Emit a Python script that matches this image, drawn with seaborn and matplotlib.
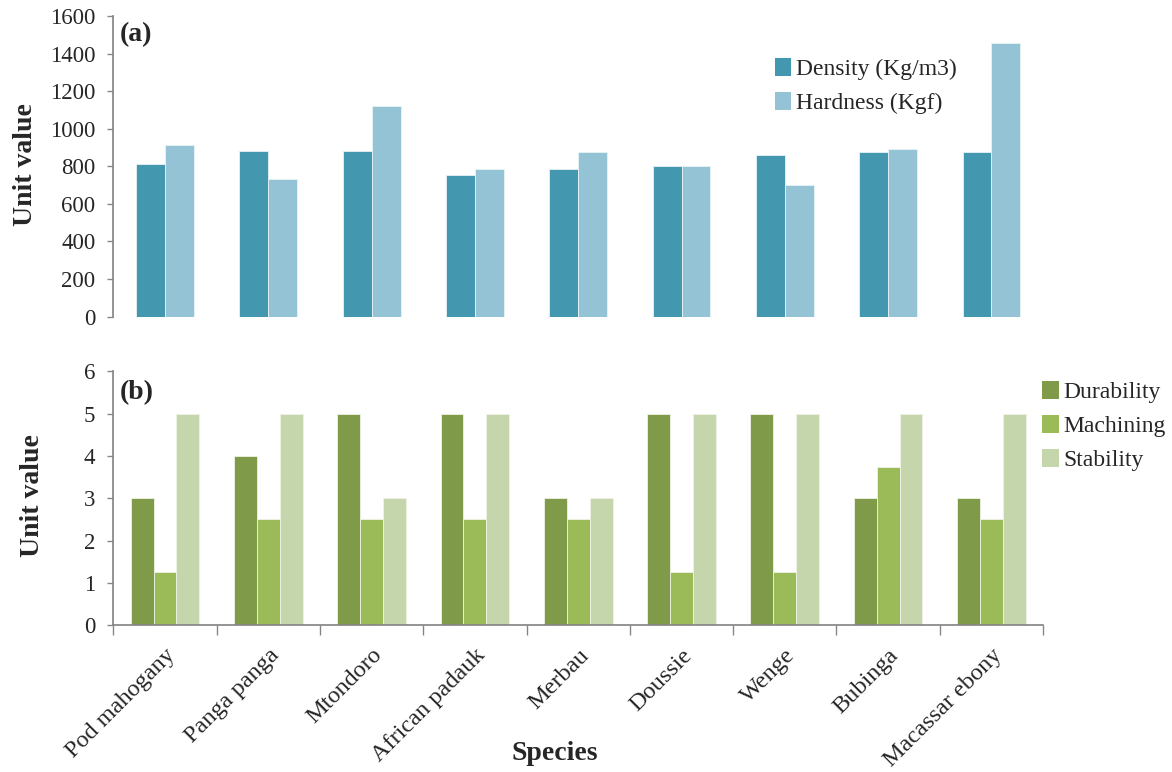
import pandas as pd
import matplotlib.pyplot as plt
import seaborn as sns
from matplotlib.patches import Patch

# values
species = ['Pod mahogany', 'Panga panga', 'Mtondoro', 'African padauk', 'Merbau',
           'Doussie', 'Wenge', 'Bubinga', 'Macassar ebony']
density = [815, 882, 882, 755, 788, 802, 862, 875, 875]
hardness = [916, 734, 1119, 788, 875, 802, 700, 895, 1455]
durability = [3, 4, 5, 5, 3, 5, 5, 3, 3]
machining = [1.25, 2.5, 2.5, 2.5, 2.5, 1.25, 1.25, 3.75, 2.5]
stability = [5, 5, 3, 5, 3, 5, 5, 5, 5]

top_names = ['Density (Kg/m3)', 'Hardness (Kgf)']
top_colors = ['#4397AF', '#93C3D5']
bot_names = ['Durability', 'Machining', 'Stability']
bot_colors = ['#7F9A48', '#9BBB59', '#C6D6AC']

sns.set_theme(style='white')
plt.rcParams['font.family'] = ['Liberation Serif', 'DejaVu Serif']
spine_col = '#868686'

top_df = pd.DataFrame({'Species': species * 2,
                       'Property': [top_names[0]] * 9 + [top_names[1]] * 9,
                       'Value': density + hardness})
bot_df = pd.DataFrame({'Species': species * 3,
                       'Property': [bot_names[0]] * 9 + [bot_names[1]] * 9 + [bot_names[2]] * 9,
                       'Value': durability + machining + stability})

fig = plt.figure(figsize=(11.72, 7.72), dpi=100)
ax1 = fig.add_axes([0.0967, 0.590, 0.7933, 0.389])
ax2 = fig.add_axes([0.0967, 0.190, 0.7933, 0.329])

sns.barplot(data=top_df, x='Species', y='Value', hue='Property', palette=top_colors,
            saturation=1, width=0.56, gap=0, ax=ax1, edgecolor='#E8F2F6', linewidth=0.6,
            legend=False)
sns.barplot(data=bot_df, x='Species', y='Value', hue='Property', palette=bot_colors,
            saturation=1, width=0.665, gap=0, ax=ax2, edgecolor='#EEF3E4', linewidth=0.6,
            legend=False)

for ax in (ax1, ax2):
    ax.set_xlim(-0.5, 8.5)
    for s in ('top', 'right'):
        ax.spines[s].set_visible(False)
    ax.spines['left'].set_color(spine_col)
    ax.spines['bottom'].set_color(spine_col)
    ax.tick_params(axis='y', direction='out', length=4.5, width=1, color=spine_col,
                   labelsize=16.5, pad=8.5, left=True)
    ax.set_ylabel('Unit value', fontsize=20, fontweight='bold')

ax1.yaxis.set_label_coords(-0.0805, 0.505)
ax2.yaxis.set_label_coords(-0.073, 0.51)

# top panel
ax1.set_ylim(0, 1600)
ax1.set_yticks(range(0, 1601, 200))
ax1.spines['bottom'].set_visible(False)
ax1.set_xticks([])
ax1.set_xlabel('')
ax1.text(0.007, 0.94, '(a)', transform=ax1.transAxes, fontsize=20, fontweight='bold',
         va='center', ha='left')
ax1.legend(handles=[Patch(facecolor=c, edgecolor='none', label=n) for n, c in zip(top_names, top_colors)],
           loc='upper left', bbox_to_anchor=(0.661, 0.925), bbox_transform=fig.transFigure,
           frameon=False, fontsize=17, handlelength=0.7, handleheight=0.8,
           handletextpad=0.2, labelspacing=0.5, borderaxespad=0, borderpad=0)

# bottom panel
ax2.set_ylim(0, 6)
ax2.set_yticks(range(0, 7))
ax2.set_xticks(range(len(species)))
ax2.set_xticklabels(species, rotation=45, ha='right', rotation_mode='anchor', fontsize=17.5)
ax2.tick_params(axis='x', which='major', length=0, pad=14)
ax2.set_xticks([i - 0.5 for i in range(len(species) + 1)], minor=True)
ax2.tick_params(axis='x', which='minor', direction='out', length=7, width=1,
                color=spine_col, bottom=True)
ax2.set_xlabel('Species', fontsize=20, fontweight='bold')
ax2.xaxis.set_label_coords(0.475, -0.455)
ax2.text(0.007, 0.915, '(b)', transform=ax2.transAxes, fontsize=20, fontweight='bold',
         va='center', ha='left')
ax2.legend(handles=[Patch(facecolor=c, edgecolor='none', label=n) for n, c in zip(bot_names, bot_colors)],
           loc='upper left', bbox_to_anchor=(0.8895, 0.507), bbox_transform=fig.transFigure,
           frameon=False, fontsize=17, handlelength=0.7, handleheight=0.8,
           handletextpad=0.2, labelspacing=0.5, borderaxespad=0, borderpad=0)

fig.savefig('out.png', dpi=100)
